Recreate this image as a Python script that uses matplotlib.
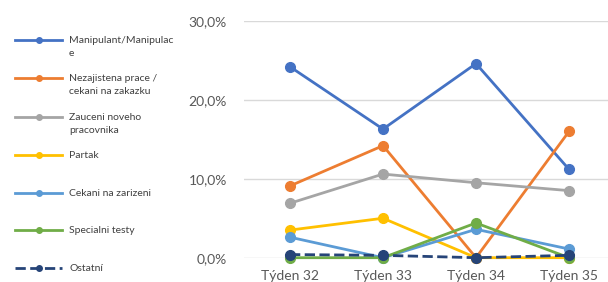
import matplotlib.pyplot as plt
from matplotlib.lines import Line2D
from matplotlib.ticker import FuncFormatter

plt.rcParams['font.family'] = ['Lato', 'DejaVu Sans']

# data (percent)
weeks = ['Týden 32', 'Týden 33', 'Týden 34', 'Týden 35']
series_names = ['Manipulant/Manipulac\ne', 'Nezajistena prace /\ncekani na zakazku',
                'Zauceni noveho\npracovnika', 'Partak', 'Cekani na zarizeni',
                'Specialni testy', 'Ostatní']
manipulant = [24.2, 16.3, 24.6, 11.2]
nezajistena = [9.1, 14.2, 0.0, 16.0]
zauceni = [6.9, 10.6, 9.5, 8.5]
partak = [3.5, 5.0, 0.0, 0.0]
cekani = [2.6, 0.0, 3.6, 1.1]
specialni = [0.0, 0.0, 4.4, 0.0]
ostatni = [0.4, 0.3, 0.0, 0.3]
series = [manipulant, nezajistena, zauceni, partak, cekani, specialni, ostatni]
colors = ['#4472C4', '#ED7D31', '#A5A5A5', '#FFC000', '#5B9BD5', '#70AD47', '#264478']
styles = ['-', '-', '-', '-', '-', '-', '--']

W, H = 608, 282
fig = plt.figure(figsize=(W / 100, H / 100), dpi=100)
ax = fig.add_axes([243.5 / W, 1 - 257.7 / H, 372 / W, (257.7 - 21) / H])

x = range(len(weeks))
for vals, c, ls in zip(series, colors, styles):
    ax.plot(x, vals, color=c, lw=2, ls=ls, marker='o', ms=7, zorder=3,
            clip_on=False)

ax.set_xlim(-0.5, 3.5)
ax.set_ylim(0, 30)
ax.set_yticks([0, 10, 20, 30])
ax.yaxis.set_major_formatter(FuncFormatter(lambda v, p: f'{v:.1f}%'.replace('.', ',')))
ax.set_xticks(list(x))
ax.set_xticklabels(weeks)
ax.tick_params(length=0, labelsize=10, colors='#595959')
ax.tick_params(axis='y', pad=12)
ax.tick_params(axis='x', pad=9)
ax.grid(axis='y', color='#D9D9D9', lw=1)
ax.set_axisbelow(True)
for s in ax.spines.values():
    s.set_visible(False)

# legend drawn on the left
leg = fig.add_axes([0, 0, 1, 1], facecolor='none')
leg.set_xlim(0, W)
leg.set_ylim(H, 0)
leg.axis('off')
ys = [40, 78, 117, 155, 193, 230, 268]
for name, c, ls, yy in zip(series_names, colors, styles, ys):
    leg.add_line(Line2D([15, 62], [yy, yy], color=c, lw=2, ls=ls))
    leg.add_line(Line2D([39], [yy], color=c, marker='o', ms=4))
    leg.text(69, yy - 4, name, fontsize=7.5, color='#404040', va='top',
             linespacing=1.6)

fig.savefig('out.png', dpi=100)
